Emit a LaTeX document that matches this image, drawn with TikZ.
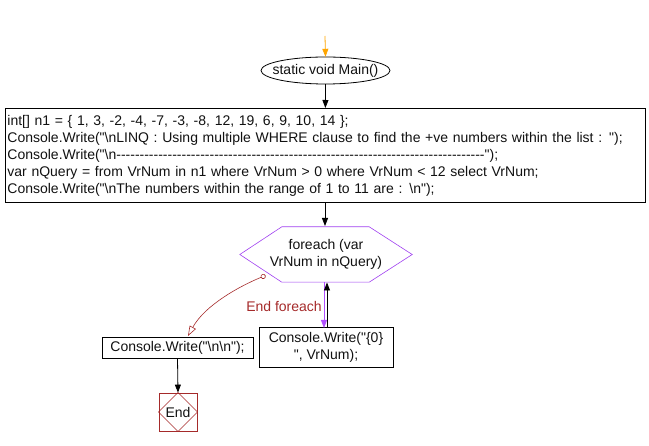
\documentclass[tikz,border=0pt]{standalone}
\usepackage{fontspec}
\setmainfont{Liberation Sans}[Ligatures=TeXOff]
\usetikzlibrary{arrows.meta,shapes.geometric}
\definecolor{fgpurple}{HTML}{A040F0}
\definecolor{fgarrpurple}{HTML}{B050FF}
\definecolor{fgred}{HTML}{A52A2A}
\definecolor{fgorange}{HTML}{FFA500}
\definecolor{fgtext}{HTML}{111111}
\begin{document}
\begin{tikzpicture}[x=1pt,y=-1pt,
  txt/.style={font=\fontsize{14}{17}\selectfont, text=fgtext},
  box/.style={draw, line width=0.8pt, txt},
  arr/.style={line width=0.8pt, -{Triangle[length=8pt,width=6pt]}},
]
\useasboundingbox (0,0) rectangle (649,446);
\coordinate (start) at (325,36);
\node[txt, minimum width=129, minimum height=27, inner sep=0] (main) at (325.5,70.5) {static void Main()};
\draw[line width=0.8pt] (main.center) ellipse [x radius=64.5, y radius=13.5];
\node[box, anchor=north west, minimum width=640, minimum height=94, text width=636, align=left, inner xsep=2, inner ysep=2] (code) at (5,108) {%
int[] n1 = \{ 1, 3, -2, -4, -7, -3, -8, 12, 19, 6, 9, 10, 14 \};\\
Console.Write("\textbackslash nLINQ : Using multiple WHERE clause to find the +ve numbers within the list : ");\\
Console.Write("\textbackslash n-------------------------------------------------------------------------------");\\
var nQuery = from VrNum in n1 where VrNum > 0 where VrNum < 12 select VrNum;\\
Console.Write("\textbackslash nThe numbers within the range of 1 to 11 are : \textbackslash n");};
\node[txt, align=center, minimum width=172, minimum height=55, inner sep=0] (fe) at (326,254.5) {foreach (var\\VrNum in nQuery)};
\draw[fgpurple, line width=0.6pt] (fe.west) -- ([xshift=42]fe.north west) -- ([xshift=-43]fe.north east) -- (fe.east) -- ([xshift=-43]fe.south east) -- ([xshift=42]fe.south west) -- cycle;
\node[box, align=center, minimum width=134, minimum height=40, inner sep=1] (body) at (326,347) {Console.Write("\{0\}\\", VrNum);};
\node[box, minimum width=151, minimum height=21, inner sep=0] (nn) at (177.5,347.5) {Console.Write("\textbackslash n\textbackslash n");};
\node[draw=fgred, line width=0.8pt, minimum width=38, minimum height=38, inner sep=0, txt] (end) at (178,412) {End};
\draw[fgred, line width=0.5pt] (end.north) -- (end.east) -- (end.south) -- (end.west) -- cycle;
\coordinate (loopout) at (265.5,275.5);
\draw[arr, fgorange] (start) -- (main.north);
\draw[arr] (main.south) -- (code.south |- 0,108);
\draw[arr] (code.south -| 325,0) -- (325,226);
\draw[arr, fgarrpurple] (324,282) -- (324,328);
\draw[arr] (327,327) -- (327,282.5);
\node[txt, text=fgred] (endlbl) at (284,306) {End foreach};
\draw[fgred, line width=0.6pt, {Circle[open,length=5pt,width=5pt]}-{Triangle[open,length=10pt,width=7pt]}] (loopout) .. controls (240,286) and (205,305) .. (188,336);
\draw[arr] (nn.south) -- (end.north);
\end{tikzpicture}
\end{document}
